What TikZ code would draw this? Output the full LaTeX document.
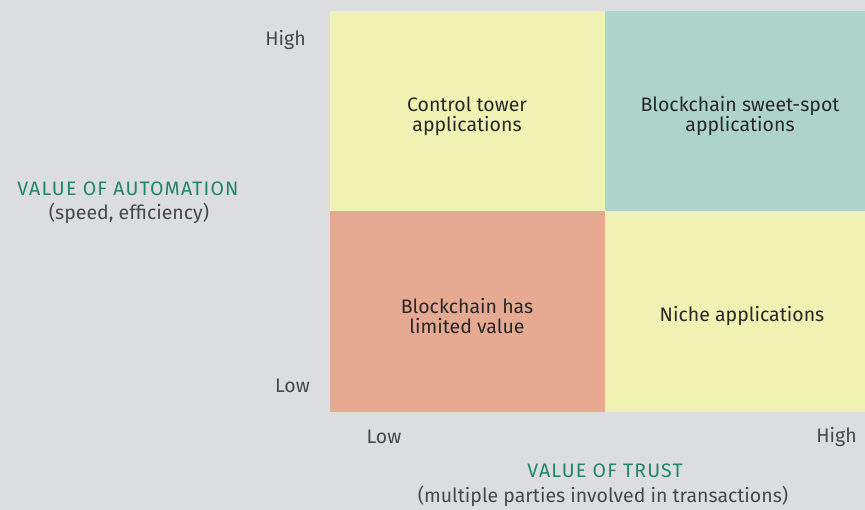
\documentclass[tikz,border=0pt]{standalone}
\usepackage{fontspec}
\setmainfont{Fira Sans}
\newfontfamily\capsfont[LetterSpace=6]{Fira Sans}
\definecolor{bg}{RGB}{220,221,223}
\definecolor{qyellow}{RGB}{240,242,180}
\definecolor{qteal}{RGB}{174,212,202}
\definecolor{qsalmon}{RGB}{230,170,146}
\definecolor{axgreen}{RGB}{30,135,100}
\definecolor{txt}{RGB}{40,40,40}
\begin{document}
\begin{tikzpicture}[x=1pt,y=-1pt,
  qtext/.style={text=txt,font=\fontsize{19.5}{20}\selectfont,align=center,inner sep=0pt},
  tick/.style={text=txt!85!white,font=\fontsize{19.5}{20}\selectfont,inner sep=0pt},
  axtitle/.style={text=axgreen,font=\capsfont\fontsize{19.5}{20}\selectfont,inner sep=0pt},
  axsub/.style={text=txt!85!white,font=\fontsize{19.5}{20}\selectfont,inner sep=0pt}]
\fill[bg] (0,0) rectangle (865,510);
\useasboundingbox (0,0) rectangle (865,510);
\fill[qyellow] (330,11) rectangle (605,211);
\fill[qteal] (605,11) rectangle (865,211);
\fill[qsalmon] (330,211) rectangle (605,412);
\fill[qyellow] (605,211) rectangle (865,412);
\node[qtext] (ct) at (467,116) {Control tower\\applications};
\node[qtext] (ss) at (740,116) {Blockchain sweet-spot\\applications};
\node[qtext] (lv) at (467,316) {Blockchain has\\limited value};
\node[qtext] (na) at (742,316) {Niche applications};
\node[tick,anchor=east] (yh) at (306,40) {High};
\node[tick,anchor=east] (yl) at (310,386) {Low};
\node[tick] (xl) at (384,437) {Low};
\node[tick,anchor=east] (xh) at (857,437) {High};
\node[axtitle] (xt) at (605,471) {VALUE OF TRUST};
\node[axsub] (xs) at (603,496) {(multiple parties involved in transactions)};
\node[axtitle] (yt) at (128,189) {VALUE OF AUTOMATION};
\node[axsub] (ys) at (129,213) {(speed, efficiency)};
\end{tikzpicture}
\end{document}
